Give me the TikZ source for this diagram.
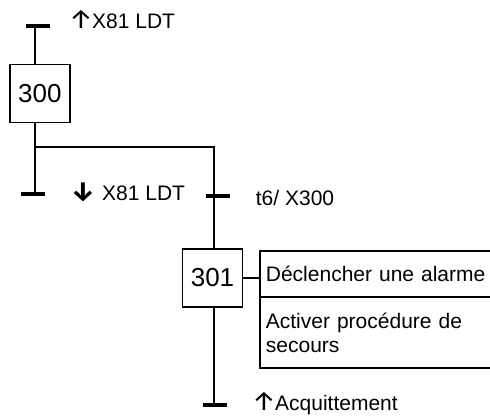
\documentclass[tikz,border=0pt]{standalone}
\usepackage{fontspec}
\setmainfont{Liberation Sans}
\newfontfamily\arrowfont{Fira Sans}
\newcommand\uparr{{\arrowfont\fontsize{27}{24}\selectfont ↑}\kern-1pt}
\newcommand\downarr{{\arrowfont\bfseries\fontsize{27}{24}\selectfont ↓}}
\begin{document}
\begin{tikzpicture}[x=1pt,y=-1pt,
  line width=1.8pt,
  stepbox/.style={draw, line width=1.8pt, minimum width=60pt, minimum height=58pt,
    inner sep=0pt, font=\fontsize{26}{30}\selectfont},
  trbar/.style={fill=black, draw=none, minimum width=24pt, minimum height=4pt, inner sep=0pt},
  lbl/.style={anchor=base west, inner sep=0pt, font=\fontsize{21}{24}\selectfont},
  actbox/.style={draw, line width=1.8pt, anchor=north west, minimum width=240pt,
    text width=228pt, align=left, inner xsep=6pt, inner ysep=0pt,
    font=\fontsize{21}{24}\selectfont}]
\clip (0,0) rectangle (490,416);

% steps
\node[stepbox] (s300) at (39.8,93.5) {300};
\node[stepbox] (s301) at (212.5,278) {301};

% transitions
\node[trbar] (t0) at (37.5,25.7) {};
\node[trbar] (t1) at (33,194) {};
\node[trbar] (t2) at (218,195.5) {};
\node[trbar] (t3) at (215,405) {};

% divergence
\coordinate (jl) at (35,147);
\coordinate (jr) at (214,147);

% links
\draw (jl |- t0) -- (jl |- s300.north);
\draw (jl |- s300.south) -- (jl |- t1);
\draw (jl) -- (jr) -- (jr |- s301.north);
\draw (jr |- s301.south) -- (jr |- t3);

% actions of step 301
\node[actbox, minimum height=46pt] (a1) at (259,250) {Déclencher une alarme};
\node[actbox, minimum height=71pt] (a2) at (259,296) {Activer procédure de\\secours};
\draw (s301.east) -- (a1.west |- s301.east);

% receptivities
\node[lbl] (r0) at (68,28) {\uparr X81 LDT};
\node[lbl] (r1) at (70,200) {\downarr\hspace{7pt}X81 LDT};
\node[lbl] (r2) at (255,205) {t6/ X300};
\node[lbl] (r3) at (251,410) {\uparr Acquittement};
\end{tikzpicture}
\end{document}
